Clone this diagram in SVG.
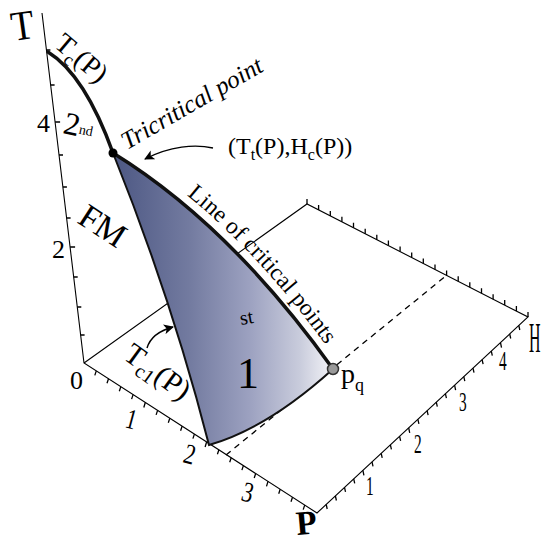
<svg xmlns="http://www.w3.org/2000/svg" width="542" height="544" viewBox="0 0 542 544">
<style>
.ax{fill:none;stroke:#000;stroke-width:1.1}
.tk{fill:none;stroke:#000;stroke-width:1.3}
text{font-family:"Liberation Serif","Times New Roman",serif;fill:#000}
.edge{fill:none;stroke:#111;stroke-width:2}
.crit{fill:none;stroke:#111;stroke-width:3.5;stroke-linecap:round}
.arr{fill:none;stroke:#000;stroke-width:1.4}
</style>
<defs>
<linearGradient id="sg" x1="0" y1="0" x2="1" y2="0">
<stop offset="0" stop-color="#4c5783"/>
<stop offset="0.35" stop-color="#737ba0"/>
<stop offset="0.62" stop-color="#9ca1c0"/>
<stop offset="0.85" stop-color="#c9ccdc"/>
<stop offset="1" stop-color="#f4f4f8"/>
</linearGradient>
<marker id="ah" viewBox="0 0 10 10" refX="9" refY="5" markerWidth="10" markerHeight="10" markerUnits="userSpaceOnUse" orient="auto">
<path d="M0,0 L10,5 L0,10 L2.5,5 Z" fill="#000"/>
</marker>
<path id="clp" d="M118,147 Q238,218 339,364"/>
</defs>

<g id="axes">
<path class="ax" d="M42,13 L84,363 L317,513 L528,317 L307,204 L84,363"/>
<path class="tk" d="M80.6,335 l4,0 M77.3,307 l4,0 M73.7,277 l4,0 M70.1,247 l5,0 M66.6,218 l4,0 M62.9,187 l4,0 M59,155 l4,0 M55.1,122 l5,0 M50.6,85 l4,0 M46.4,50 l4,0"/>
<path class="tk" d="M96.3,370.9 l-1.5,4.5 M108.5,378.8 l-1.5,4.5 M120.8,386.7 l-1.5,4.5 M133.1,394.6 l-1.5,4.5 M145.3,402.5 l-1.5,5 M157.6,410.4 l-1.5,4.5 M169.8,418.3 l-1.5,4.5 M182.1,426.2 l-1.5,4.5 M194.4,434.1 l-1.5,4.5 M206.6,442 l-1.5,5 M218.9,449.8 l-1.5,4.5 M231.2,457.7 l-1.5,4.5 M243.4,465.6 l-1.5,4.5 M255.7,473.5 l-1.5,4.5 M268,481.4 l-1.5,5 M280.2,489.3 l-1.5,4.5 M292.5,497.2 l-1.5,4.5 M304.7,505.1 l-1.5,4.5"/>
<path class="tk" d="M326.2,504.5 l1,4.5 M335.4,496 l1,4.5 M344.5,487.4 l1,4.5 M353.7,478.9 l1,4.5 M362.9,470.4 l1,5 M372,461.9 l1,4.5 M381.2,453.4 l1,4.5 M390.4,444.8 l1,4.5 M399.6,436.3 l1,4.5 M408.7,427.8 l1,5 M417.9,419.3 l1,4.5 M427.1,410.7 l1,4.5 M436.3,402.2 l1,4.5 M445.4,393.7 l1,4.5 M454.6,385.2 l1,5 M463.8,376.7 l1,4.5 M473,368.1 l1,4.5 M482.1,359.6 l1,4.5 M491.3,351.1 l1,4.5 M500.5,342.6 l1,5 M509.7,334 l1,4.5 M518.8,325.5 l1,4.5"/>
<path class="tk" d="M307,204 l0,-5 M318.6,210 l0,-5 M330.3,215.9 l0,-5 M341.9,221.8 l0,-5 M353.5,227.8 l0,-5 M365.2,233.7 l0,-5 M376.8,239.7 l0,-5 M388.4,245.6 l0,-5 M400.1,251.6 l0,-5 M411.7,257.5 l0,-5 M423.3,263.5 l0,-5 M435,269.4 l0,-5 M446.6,275.4 l0,-5 M458.2,281.3 l0,-5 M469.8,287.3 l0,-5 M481.5,293.2 l0,-5 M493.1,299.2 l0,-5 M504.7,305.1 l0,-5 M516.4,311 l0,-5 M528,317 l0,-5"/>
<text x="70" y="389" font-size="26">0</text>
<text x="52" y="258" font-size="26">2</text>
<text x="37" y="132" font-size="26">4</text>
<text font-size="26" transform="translate(124,427) rotate(15) scale(0.8,1.1)">1</text>
<text font-size="26" transform="translate(182,462) rotate(15) scale(0.85,1.1)">2</text>
<text font-size="26" transform="translate(240,500) rotate(15) scale(0.85,1.1)">3</text>
<text font-size="28" transform="translate(366,495) scale(0.55,1)">1</text>
<text font-size="28" transform="translate(414,453) scale(0.55,1)">2</text>
<text font-size="28" transform="translate(459,411) scale(0.55,1)">3</text>
<text font-size="28" transform="translate(499,370) scale(0.55,1)">4</text>
<text font-size="42" transform="translate(13,41) rotate(-8) scale(0.9,1)">T</text>
<text font-size="34" font-weight="bold" transform="translate(297,535) rotate(-5)">P</text>
<text font-size="42" transform="translate(529,352) scale(0.38,1)">H</text>
</g>

<g id="connectors">
<path d="M226,455 L447,275" fill="none" stroke="#000" stroke-width="1.3" stroke-dasharray="6,5"/>
<path class="arr" d="M213,148 C195,144 170,146 145,159" marker-end="url(#ah)"/>
<path class="arr" d="M147,348 C150,338 158,331 173,327" marker-end="url(#ah)"/>
</g>

<g id="surface">
<path d="M113,153 Q172,300 209,445 Q268,428 333,369 Q234,225 113,153 Z" fill="url(#sg)"/>
<path class="edge" d="M113,153 Q172,300 209,445 Q268,428 333,369"/>
<path class="crit" d="M113,153 Q230,225 333,369"/>
</g>

<g id="tc-curve">
<path class="crit" stroke-width="3" d="M48,52 Q85,75 113,153"/>
</g>

<g id="tricritical">
<circle cx="113" cy="153" r="4.5" fill="#000"/>
</g>
<g id="pq-point">
<circle cx="333" cy="369" r="5.5" fill="#999" stroke="#333" stroke-width="1.5"/>
</g>

<g id="labels">
<text transform="translate(53,46) rotate(40)" font-size="28">T<tspan font-size="18" dy="6">c</tspan><tspan dy="-6">(P)</tspan></text>
<text transform="translate(62,133) rotate(12)" font-size="32">2<tspan font-size="14" dy="-3">nd</tspan></text>
<text transform="translate(127,150) rotate(-30)" font-size="25" font-style="italic">Tricritical point</text>
<text x="228" y="154" font-size="24">(T<tspan font-size="16" dy="6">t</tspan><tspan dy="-6">(P),H</tspan><tspan font-size="16" dy="6">c</tspan><tspan dy="-6">(P))</tspan></text>
<text font-size="23.5"><textPath href="#clp" startOffset="84" textLength="205" lengthAdjust="spacing">Line of critical points</textPath></text>
<text transform="translate(76,222) rotate(33)" font-size="34">FM</text>
<text transform="translate(122,358) rotate(36)" font-size="30">T<tspan font-size="20" dy="6">c1</tspan><tspan dy="-6">(P)</tspan></text>
<text transform="translate(241,325) rotate(-10)" font-size="20">st</text>
<text x="237" y="388" font-size="44">1</text>
<text x="341" y="383" font-size="28">p<tspan font-size="18" dy="8">q</tspan></text>
</g>
</svg>
